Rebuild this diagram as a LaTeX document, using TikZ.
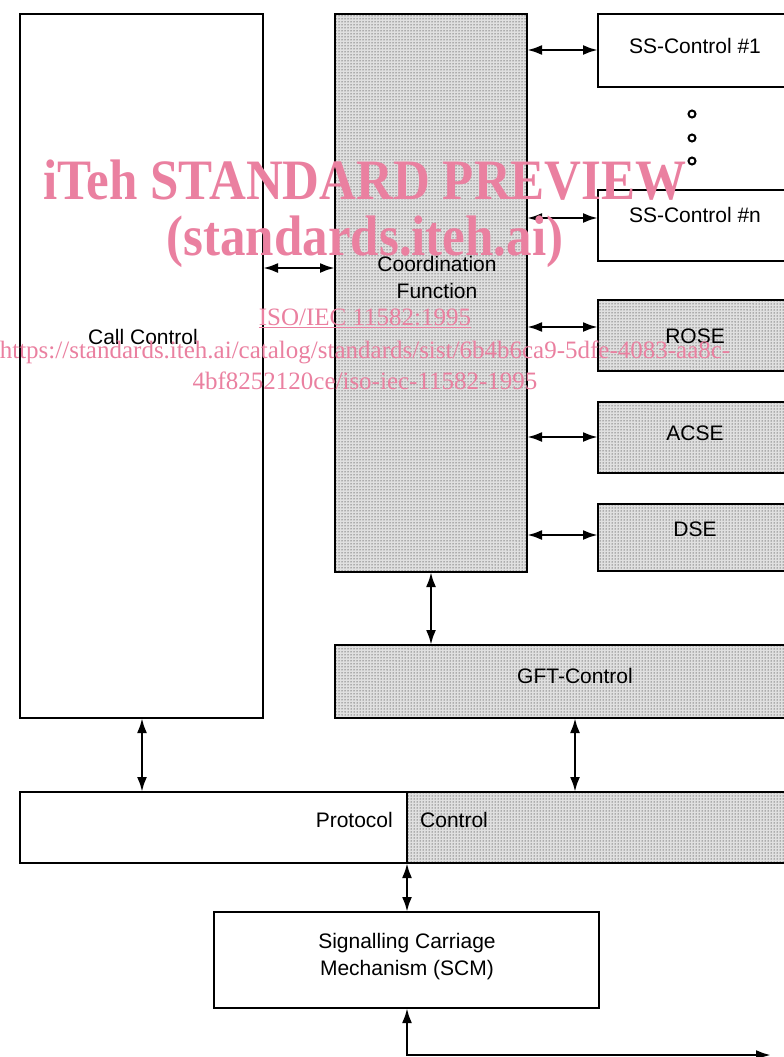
\documentclass[tikz,border=0pt]{standalone}
\usepackage{fontspec}
\setmainfont{Liberation Sans}
\newfontfamily\wmfont{Liberation Serif}
\usetikzlibrary{arrows.meta,patterns}
\definecolor{wmpink}{RGB}{234,128,160}
\begin{document}
\begin{tikzpicture}[x=1pt,y=-1pt,
  box/.style={draw,line width=2.4pt,rectangle,inner sep=0pt,outer sep=0pt,anchor=north west},
  shaded/.style={box,fill=black!12,postaction={pattern=dots,pattern color=black}},
  lbl/.style={font=\fontsize{21}{27}\selectfont,inner sep=0pt,align=center},
  arr/.style={line width=2.6pt,{Latex[length=15pt,width=10pt]}-{Latex[length=15pt,width=10pt]}},
  wm/.style={text=wmpink,inner sep=0pt,align=center},
  ring/.style={draw,line width=2pt,circle,minimum size=7pt,inner sep=0pt}]
\useasboundingbox (0,0) rectangle (784,1057);
\clip (0,0) rectangle (784,1057);
% boxes
\node[box,minimum width=243pt,minimum height=704pt] (call) at (20,14) {};
\node[shaded,minimum width=192pt,minimum height=558pt] (coord) at (335,14) {};
\node[box,minimum width=200pt,minimum height=73pt] (ss1) at (598,14) {};
\node[box,minimum width=200pt,minimum height=71pt] (ssn) at (598,190) {};
\node[shaded,minimum width=200pt,minimum height=71pt] (rose) at (598,300) {};
\node[shaded,minimum width=200pt,minimum height=71pt] (acse) at (598,402) {};
\node[shaded,minimum width=200pt,minimum height=67pt] (dse) at (598,504) {};
\node[shaded,minimum width=480pt,minimum height=73pt] (gft) at (335,645) {};
\node[box,minimum width=387pt,minimum height=71pt] (protL) at (20,792) {};
\node[shaded,minimum width=420pt,minimum height=71pt] (protR) at (407,792) {};
\node[box,minimum width=385pt,minimum height=96pt] (scm) at (214,912) {};
% dots
\node[ring] (d1) at (692,114) {};
\node[ring] (d2) at (692,138) {};
\node[ring] (d3) at (692,161) {};
% texts
\node[lbl] (tcall) at (143,337) {Call Control};
\node[lbl] (tcoord) at (437,277) {Coordination\\Function};
\node[lbl] (tss1) at (695,46) {SS-Control \#1};
\node[lbl] (tssn) at (695,215) {SS-Control \#n};
\node[lbl] (trose) at (695,336) {ROSE};
\node[lbl] (tacse) at (695,433) {ACSE};
\node[lbl] (tdse) at (695,529) {DSE};
\node[lbl] (tgft) at (575,676) {GFT-Control};
\node[lbl,anchor=east] (tprot) at (393,820) {Protocol};
\node[lbl,anchor=west] (tctrl) at (420,820) {Control};
\node[lbl] (tscm) at (407,957) {Signalling Carriage\\Mechanism (SCM)};
% helper coordinates
\coordinate (y50) at (0,50);
\coordinate (y218) at (0,218);
\coordinate (y268) at (0,268);
\coordinate (y327) at (0,327);
\coordinate (y437) at (0,437);
\coordinate (y535) at (0,535);
\coordinate (x142) at (142,0);
\coordinate (x431) at (431,0);
\coordinate (x575) at (575,0);
\coordinate (bCorner) at (407,1055);
\coordinate (bEnd) at (771,1055);
% connectors
\draw[arr] (coord.east |- y50) -- (ss1.west |- y50);
\draw[arr] (coord.east |- y218) -- (ssn.west |- y218);
\draw[arr] (coord.east |- y327) -- (rose.west |- y327);
\draw[arr] (coord.east |- y437) -- (acse.west |- y437);
\draw[arr] (coord.east |- y535) -- (dse.west |- y535);
\draw[arr] (call.east |- y268) -- (coord.west |- y268);
\draw[arr] (coord.south -| x431) -- (gft.north -| x431);
\draw[arr] (call.south -| x142) -- (protL.north -| x142);
\draw[arr] (gft.south -| x575) -- (protR.north -| x575);
\draw[arr] (protR.south west) -- (scm.north -| protR.south west);
\draw[arr] (scm.south -| bCorner) -- (bCorner) -- (bEnd);
% watermark
\node[wm,font=\wmfont\bfseries\fontsize{51}{60}\selectfont,yscale=1.12,transform shape] (wm1) at (365,180) {iTeh STANDARD PREVIEW};
\node[wm,font=\wmfont\bfseries\fontsize{51}{60}\selectfont,yscale=1.12,transform shape] (wm2) at (365,242) {(standards.iteh.ai)};
\node[wm,font=\wmfont\fontsize{25}{30}\selectfont] (wm3) at (365,318) {\underline{ISO/IEC 11582:1995}};
\node[wm,font=\wmfont\fontsize{25}{30}\selectfont] (wm4) at (365,352) {https://standards.iteh.ai/catalog/standards/sist/6b4b6ca9-5dfe-4083-aa8c-};
\node[wm,font=\wmfont\fontsize{25}{30}\selectfont] (wm5) at (365,381) {4bf8252120ce/iso-iec-11582-1995};
\end{tikzpicture}
\end{document}
